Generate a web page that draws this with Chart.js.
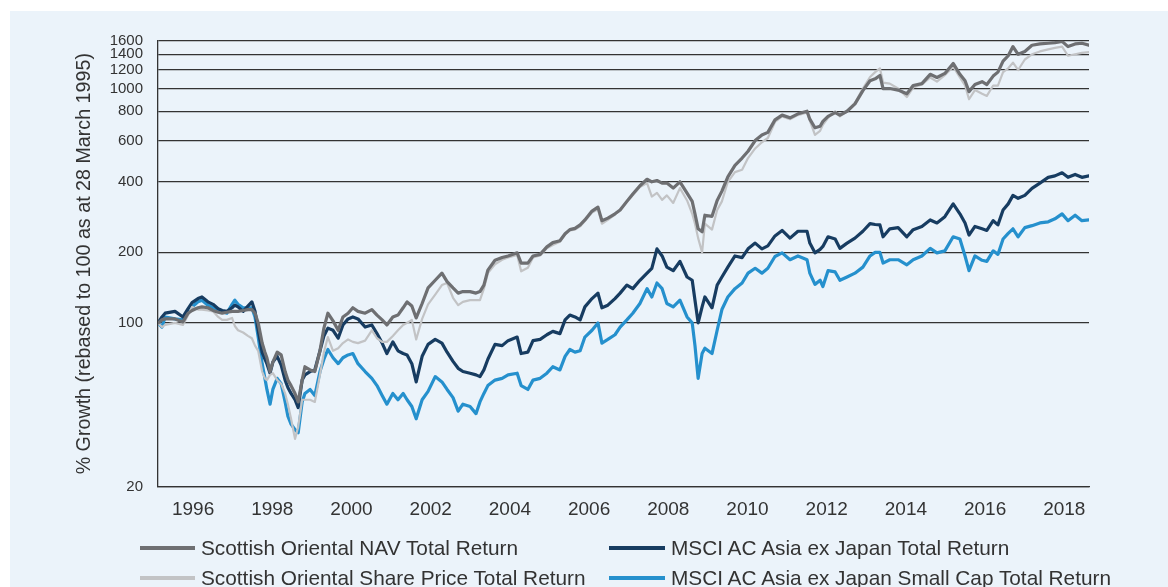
<!DOCTYPE html>
<html><head><meta charset="utf-8">
<script src="https://cdn.jsdelivr.net/npm/chart.js@4.4.1/dist/chart.umd.min.js"></script>
<style>
html,body{margin:0;padding:0;background:#fff;width:1168px;height:587px;overflow:hidden;font-family:"Liberation Sans",Arial,sans-serif;}
#panel{position:absolute;left:10px;top:11px;width:1158px;height:576px;background:#EBF3FA;overflow:hidden;}
#c{position:absolute;left:0;top:0;}
.lg{position:absolute;height:30px;display:flex;align-items:center;font-size:20.8px;color:#333;white-space:nowrap;}
.lg i{display:inline-block;height:3.6px;margin-right:6px;}
</style></head><body>
<div id="panel"><canvas id="c" width="1158" height="576"></canvas></div>
<script>
const dates = [1995.24,1995.34,1995.42,1995.67,1995.87,1996.00,1996.10,1996.25,1996.35,1996.50,
1996.63,1996.76,1996.86,1996.98,1997.11,1997.18,1997.26,1997.39,1997.51,1997.61,
1997.69,1997.77,1997.87,1997.94,1997.99,1998.07,1998.14,1998.25,1998.35,1998.45,
1998.52,1998.60,1998.70,1998.78,1998.88,1998.95,1999.08,1999.20,1999.33,1999.43,
1999.53,1999.66,1999.79,1999.91,2000.04,2000.16,2000.29,2000.47,2000.64,2000.77,
2000.90,2001.02,2001.17,2001.30,2001.43,2001.53,2001.65,2001.76,2001.91,2002.06,
2002.24,2002.41,2002.54,2002.69,2002.82,2002.94,2003.12,2003.27,2003.37,2003.47,
2003.57,2003.75,2003.93,2004.08,2004.31,2004.41,2004.58,2004.71,2004.89,2005.06,
2005.21,2005.39,2005.52,2005.64,2005.77,2005.90,2006.02,2006.20,2006.35,2006.45,
2006.60,2006.78,2006.91,2007.08,2007.23,2007.41,2007.59,2007.71,2007.84,2007.97,
2008.09,2008.25,2008.42,2008.60,2008.73,2008.80,2008.88,2008.98,2009.05,2009.23,
2009.36,2009.48,2009.63,2009.81,2009.99,2010.14,2010.32,2010.49,2010.64,2010.82,
2011.00,2011.20,2011.40,2011.63,2011.70,2011.83,2011.96,2012.03,2012.16,2012.34,
2012.46,2012.64,2012.84,2013.04,2013.22,2013.35,2013.47,2013.55,2013.72,2013.93,
2014.15,2014.31,2014.53,2014.74,2014.91,2015.11,2015.32,2015.49,2015.62,2015.72,
2015.87,2016.05,2016.17,2016.33,2016.45,2016.58,2016.71,2016.83,2016.96,2017.13,
2017.31,2017.51,2017.72,2017.89,2018.07,2018.22,2018.40,2018.57,2018.75];

const navTR = [100,103,104,104,101,110,113,116,117,116,
113,111,110,111,112,112,112,113,114,114,
110,100,82,75,71,62,68,75,73,62,
57,54,50,46,57,65,63,62,76,95,
110,102,93,106,110,116,112,110,114,108,
103,98,106,108,116,123,118,105,121,141,
152,163,150,141,134,136,136,134,136,145,
168,185,190,193,199,180,180,193,196,211,
220,224,240,250,253,262,275,300,312,273,
280,292,303,330,355,385,410,400,405,395,
395,376,400,358,330,292,252,245,288,285,
333,365,420,470,505,540,600,634,650,735,
770,750,780,800,740,680,690,724,760,790,
770,800,860,980,1080,1100,1137,1000,1000,985,
950,1030,1050,1150,1115,1160,1280,1150,1080,970,
1040,1070,1040,1130,1175,1310,1380,1510,1400,1440,
1530,1550,1560,1570,1590,1510,1550,1560,1530];

const sharePriceTR = [100,96,98,100,98,108,117,114,114,113,
112,106,103,103,105,97,93,91,88,86,
80,76,62,58,57,60,61,57,55,50,
45,39,32,36,47,47,47,46,60,75,
87,76,78,82,85,83,82,84,93,86,
83,83,88,93,98,100,103,85,104,120,
132,145,148,128,119,123,125,125,125,140,
163,178,186,190,195,166,172,190,194,208,
215,222,238,248,250,258,272,296,305,265,
275,290,303,328,350,380,395,346,359,335,
350,325,376,333,292,265,230,200,265,250,
303,330,400,440,450,505,555,590,615,720,
760,740,770,790,730,634,660,700,750,800,
760,800,870,1000,1120,1175,1220,1060,1050,1000,
920,1010,1040,1115,1070,1140,1240,1115,1030,900,
985,950,930,1030,1030,1175,1220,1290,1200,1330,
1400,1440,1470,1490,1510,1380,1400,1420,1430];

const msciTR = [100,106,110,112,106,115,122,127,129,123,
120,115,113,112,116,119,117,112,118,123,
112,93,75,70,67,61,68,72,66,57,
53,50,47,43.5,57,60,62,63,76,88,
95,93,86,98,104,106,104,96,98,90,
82,74,83,76,74,73,67,56,72,81,
85,82,75,68.5,64,62,61,60,59,63,
70,81,80,84,87,74,75,84,85,89,
92,90,103,108,106,103,117,127,134,116,
119,127,134,145,140,152,163,171,207,193,
173,167,183,157,152,125,100,117,129,116,
145,157,173,193,190,207,219,207,213,235,
248,230,246,246,219,199,206,212,233,228,
208,219,230,246,265,263,262,233,252,255,
233,250,258,275,267,284,322,292,267,237,
258,252,248,273,262,303,322,350,340,350,
375,395,418,424,437,418,430,418,424];

const msciSmallCapTR = [100,96,106,104,103,110,117,123,125,119,
116,114,112,110,120,125,120,116,116,116,
106,87,67,58,52,45,52,58,55,46,
40,37,35,34,46,50,52,49,62,70,
77,71,67,71,73,74,67,62,58,54,
49,45,50,47,50,47,44,39,47,51,
59,56,52,48,42,45,44,41,46,50,
54,57,58,60,61,54,52,57,58,61,
65,63,72,77,75,76,87,93,100,82,
85,89,96,103,110,121,140,129,148,140,
121,117,125,106,100,80,58,74,78,74,
93,114,129,140,148,163,171,163,171,192,
199,186,193,186,163,146,152,143,167,165,
152,157,163,173,193,200,200,180,186,186,
177,186,193,208,199,203,233,228,193,167,
193,185,183,203,196,228,241,252,233,255,
260,267,270,278,292,273,288,273,275];

const seriesNames = ['Scottish Oriental NAV Total Return',
  'Scottish Oriental Share Price Total Return',
  'MSCI AC Asia ex Japan Total Return',
  'MSCI AC Asia ex Japan Small Cap Total Return'];
const yTickValues = [20,100,200,400,600,800,1000,1200,1400,1600];
const xTickValues = [1996,1998,2000,2002,2004,2006,2008,2010,2012,2014,2016,2018];
const xTickLabels = ['1996','1998','2000','2002','2004','2006','2008','2010','2012','2014','2016','2018'];
const yAxisTitle = '% Growth (rebased to 100 as at 28 March 1995)';

const seriesValues = [navTR, sharePriceTR, msciTR, msciSmallCapTR];
const colors = ['#6e6f72', '#c2c3c5', '#173c61', '#2590cd'];
const widths = [3.2, 2.2, 3.2, 3.2];

const FONT = '"Liberation Sans", Arial, sans-serif';
const datasets = seriesValues.map((vals, k) => ({
  label: seriesNames[k],
  data: dates.map((d, i) => ({x: d, y: vals[i]})),
  borderColor: colors[k],
  backgroundColor: colors[k],
  borderWidth: widths[k],
  pointRadius: 0,
  tension: 0,
  fill: false,
  borderJoinStyle: 'round',
  borderCapStyle: 'round'
}));

new Chart(document.getElementById('c'), {
  type: 'line',
  data: {datasets},
  options: {
    responsive: false,
    animation: false,
    devicePixelRatio: 1,
    layout: {padding: {left: 0, right: 79, top: 29.7, bottom: 60.3}},
    plugins: {legend: {display: false}, tooltip: {enabled: false}},
    scales: {
      x: {
        type: 'linear',
        min: dates[0],
        max: dates[dates.length - 1],
        afterBuildTicks: s => { s.ticks = xTickValues.map(v => ({value: v})); },
        afterFit: s => { s.height = 40; },
        grid: {display: false, drawTicks: false},
        border: {display: true, color: '#333', width: 1.3},
        ticks: {
          autoSkip: false, maxRotation: 0, padding: 12, labelOffset: 5,
          color: '#333', font: {family: FONT, size: 19},
          callback: (v, i) => xTickLabels[i]
        }
      },
      y: {
        type: 'logarithmic',
        min: 20,
        max: 1600,
        afterBuildTicks: s => { s.ticks = yTickValues.map(v => ({value: v})); },
        afterFit: s => { s.width = 148; },
        grid: {color: '#333', lineWidth: 1.3, drawTicks: false},
        border: {display: true, color: '#333', width: 1.3},
        ticks: {
          autoSkip: false, padding: 15,
          color: '#333', font: {family: FONT, size: 15},
          callback: v => String(v)
        },
        title: {
          display: true, text: yAxisTitle, color: '#333',
          font: {family: FONT, size: 19.7},
          padding: {top: 63, bottom: 0}
        }
      }
    }
  }
});

// legend (HTML)
const panel = document.getElementById('panel');
const legendPos = [[130, 522, 55], [130, 552, 55], [599, 522, 56], [599, 552, 56]];
seriesNames.forEach((name, k) => {
  const d = document.createElement('div');
  d.className = 'lg';
  d.style.left = legendPos[k][0] + 'px';
  d.style.top = legendPos[k][1] + 'px';
  const ln = document.createElement('i');
  ln.style.width = legendPos[k][2] + 'px';
  ln.style.background = colors[k];
  const t = document.createElement('span');
  t.textContent = name;
  d.appendChild(ln); d.appendChild(t);
  panel.appendChild(d);
});
</script>
</body></html>
